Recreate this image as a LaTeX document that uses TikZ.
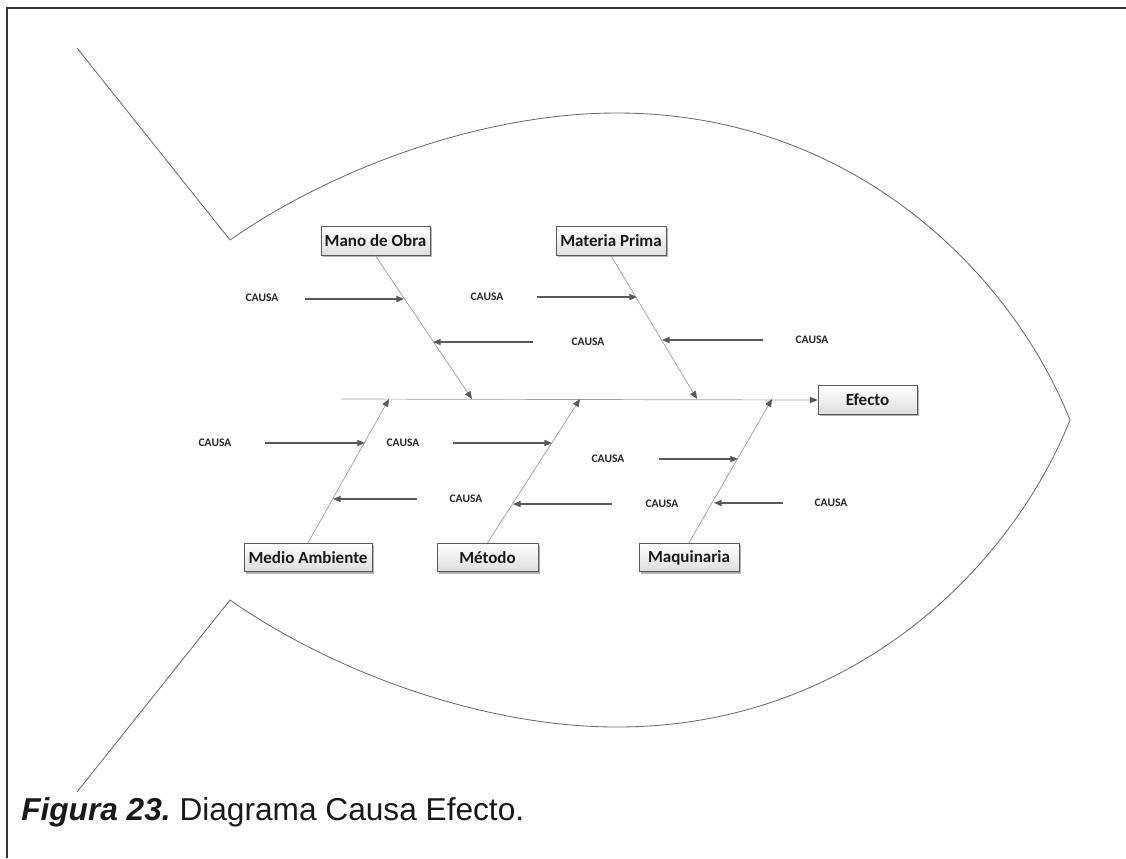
\documentclass[tikz,border=0pt]{standalone}
\usepackage{fontspec}
\setmainfont{Carlito}
\newfontfamily\arialfont{Liberation Sans}
\usetikzlibrary{arrows.meta,shadows}
\frenchspacing
\tikzset{
  lbl/.style={draw=black!65, line width=0.6pt, top color=white, bottom color=black!13,
    drop shadow={shadow xshift=1.3pt, shadow yshift=-1.3pt, fill=black, opacity=0.3},
    font=\fontsize{12.1}{15}\selectfont\bfseries, minimum height=20.4pt, inner sep=0pt, text=black!90},
  causa/.style={font=\fontsize{8.2}{10}\selectfont\bfseries, inner sep=0pt, text=black!85},
  bone/.style={draw=black!38, line width=0.5pt, -{Triangle[length=5.5pt,width=4.5pt,color=black!65]}},
  carrow/.style={draw=black!65, line width=0.85pt, -{Triangle[length=5.5pt,width=4.5pt]}},
  fish/.style={draw=black!58, line width=0.6pt},
  frame/.style={draw=black!80, line width=1pt}
}
\begin{document}
\frenchspacing
\begin{tikzpicture}[x=0.025cm,y=-0.025cm]
\useasboundingbox (0,0) rectangle (1126,858);
% frame
\coordinate (f0) at (7,858);
\coordinate (f1) at (7,8);
\coordinate (f2) at (1126,8);
\draw[frame] (f0) -- (f1) -- (f2);
% fish outline
\coordinate (t1) at (77,48);
\coordinate (c1) at (230,240);
\coordinate (p1) at (617,113);
\coordinate (tip) at (1070,420);
\coordinate (p2) at (617,727);
\coordinate (c2) at (230,600);
\coordinate (t2) at (77,792);
\draw[fish] (t1) -- (c1) .. controls (330,170) and (480,113) .. (p1)
  .. controls (850,113) and (1010,270) .. (tip)
  .. controls (1010,570) and (850,727) .. (p2)
  .. controls (480,727) and (330,670) .. (c2) -- (t2);
% boxes
\node[lbl, minimum width=109*0.025cm] (mob) at (375.5,241) {Mano de Obra};
\node[lbl, minimum width=110*0.025cm] (mp) at (611,241) {Materia Prima};
\node[lbl, minimum width=99*0.025cm] (ef) at (867.5,400) {Efecto};
\node[lbl, minimum width=128*0.025cm] (ma) at (308,557.5) {Medio Ambiente};
\node[lbl, minimum width=101*0.025cm] (met) at (487.5,557.5) {Método};
\node[lbl, minimum width=100*0.025cm] (maq) at (689,557.5) {Maquinaria};
% spine
\coordinate (s0) at (341,399);
\draw[bone] (s0) -- (ef.west);
% bones
\coordinate (bmob) at (472,399);
\coordinate (bmp) at (697,399);
\coordinate (bma) at (389,399);
\coordinate (bmet) at (580,399);
\coordinate (bmaq) at (772,399);
\draw[bone] (mob.south) -- (bmob);
\draw[bone] (mp.south) -- (bmp);
\draw[bone] (ma.north) -- (bma);
\draw[bone] (met.north) -- (bmet);
\draw[bone] (maq.north) -- (bmaq);
% causes
\node[causa] (k1) at (262,298) {CAUSA};
\node[causa] (k2) at (588,342) {CAUSA};
\node[causa] (k3) at (487,297) {CAUSA};
\node[causa] (k4) at (812,340) {CAUSA};
\node[causa] (k5) at (215,443) {CAUSA};
\node[causa] (k6) at (466,499) {CAUSA};
\node[causa] (k7) at (403,443) {CAUSA};
\node[causa] (k8) at (662,504) {CAUSA};
\node[causa] (k9) at (608,459) {CAUSA};
\node[causa] (k10) at (831,503) {CAUSA};
% cause arrow ends
\coordinate (a1) at (305,299); \coordinate (h1) at (404,299);
\coordinate (a2) at (533,342); \coordinate (h2) at (433,342);
\coordinate (a3) at (537,297); \coordinate (h3) at (637,297);
\coordinate (a4) at (763,340); \coordinate (h4) at (662,340);
\coordinate (a5) at (265,443); \coordinate (h5) at (365,443);
\coordinate (a6) at (417,499); \coordinate (h6) at (333,499);
\coordinate (a7) at (453,443); \coordinate (h7) at (552,443);
\coordinate (a8) at (612,504); \coordinate (h8) at (513,504);
\coordinate (a9) at (659,459); \coordinate (h9) at (738,459);
\coordinate (a10) at (783,503); \coordinate (h10) at (714,503);
\foreach \i in {1,...,10} {\draw[carrow] (a\i) -- (h\i);}
% caption
\node[anchor=base west, inner sep=0pt, font=\arialfont\fontsize{22.5}{26}\selectfont\frenchspacing, text=black!90] (cap) at (21,820)
  {{\bfseries\itshape Figura 23.} Diagrama Causa Efecto.};
\end{tikzpicture}
\end{document}
